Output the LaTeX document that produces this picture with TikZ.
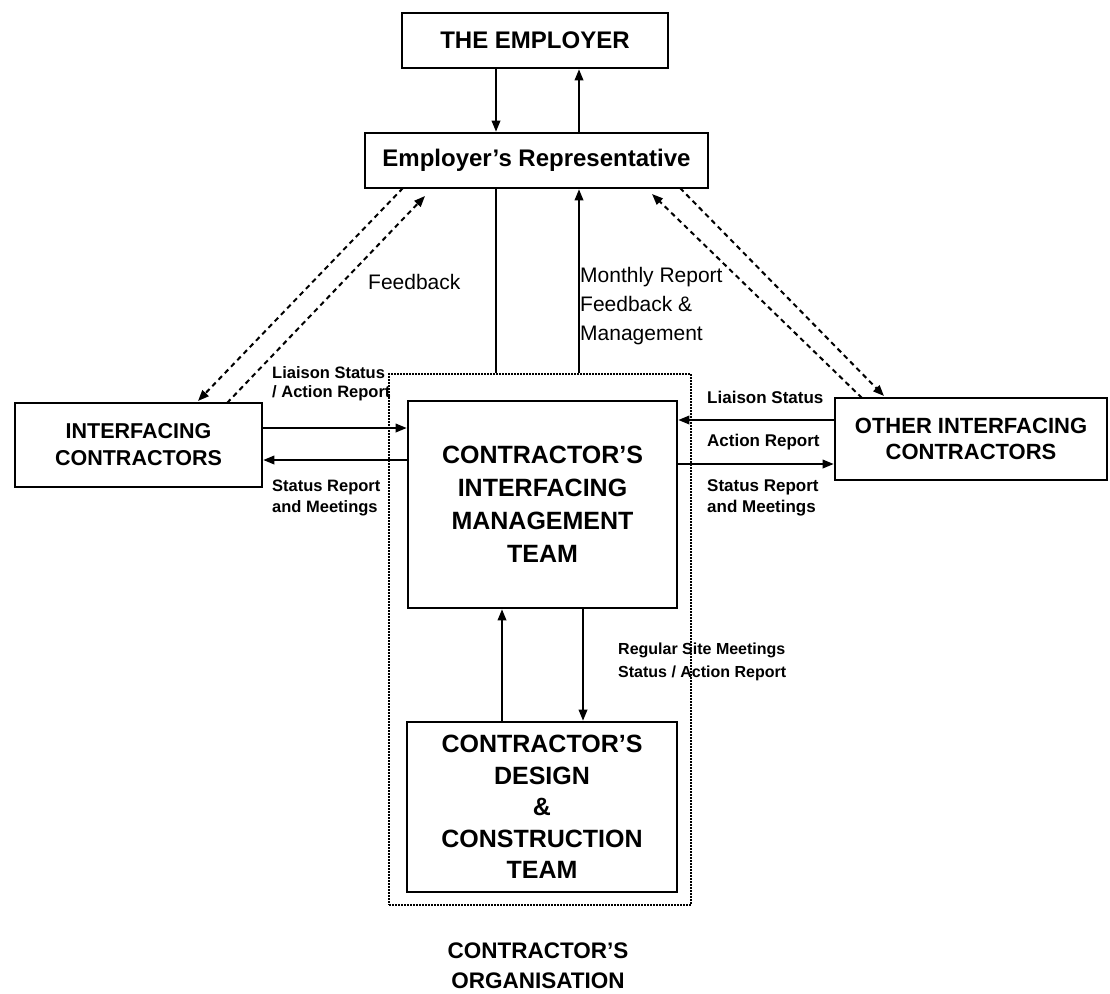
\documentclass[tikz,border=0pt]{standalone}
\usepackage{fontspec}
\setmainfont{Liberation Sans}
\usetikzlibrary{arrows.meta}
\tikzset{
  box/.style={draw, line width=2.6pt, inner sep=0pt, align=center, font=\bfseries\fontsize{25}{33}\selectfont},
  orgbox/.style={draw, line width=2.8pt, dash pattern=on 1.8pt off 1.2pt, inner sep=0pt},
  arr/.style={line width=1.8pt, -{Triangle[length=11pt,width=8.5pt]}},
  plainline/.style={line width=1.8pt},
  dasharr/.style={line width=2pt, dash pattern=on 5pt off 4pt, -{Triangle[length=11pt,width=8.5pt]}},
  lbl/.style={inner sep=0pt, align=left, anchor=west, font=\bfseries\fontsize{17}{20}\selectfont},
  biglbl/.style={inner sep=0pt, align=left, anchor=west, font=\fontsize{21}{29}\selectfont},
}
\begin{document}
\begin{tikzpicture}[x=1pt,y=-1pt]
\useasboundingbox (0,0) rectangle (1110,993);
% boxes
\node[box, minimum width=266pt, minimum height=55pt, font=\bfseries\fontsize{24}{28}\selectfont] (emp) at (535,40.5) {THE EMPLOYER};
\node[box, minimum width=343pt, minimum height=55pt, font=\bfseries\fontsize{24}{28}\selectfont] (er) at (536.5,160.5) {Employer's Representative};
\node[orgbox, minimum width=302pt, minimum height=531pt] (org) at (540,639.5) {};
\node[box, minimum width=269pt, minimum height=207pt] (cimt) at (542.5,504.5) {CONTRACTOR'S\\INTERFACING\\MANAGEMENT\\TEAM};
\node[box, minimum width=270pt, minimum height=170pt, font=\bfseries\fontsize{25}{31.5}\selectfont] (des) at (542,807) {CONTRACTOR'S\\DESIGN\\\&\\CONSTRUCTION\\TEAM};
\node[box, minimum width=247pt, minimum height=84pt, font=\bfseries\fontsize{21.5}{27}\selectfont] (ic) at (138.5,445) {INTERFACING\\CONTRACTORS};
\node[box, minimum width=272pt, minimum height=82pt, font=\bfseries\fontsize{22}{26}\selectfont] (oic) at (971,439) {OTHER INTERFACING\\CONTRACTORS};
\node[inner sep=0pt, align=center, font=\bfseries\fontsize{22.5}{30}\selectfont] (orglbl) at (538,966) {CONTRACTOR'S\\ORGANISATION};
% x/y reference coordinates
\coordinate (xa) at (496,0);
\coordinate (xb) at (579,0);
\coordinate (xc) at (502,0);
\coordinate (xd) at (583,0);
\coordinate (ya) at (0,428);
\coordinate (yb) at (0,460);
\coordinate (yc) at (0,420);
\coordinate (yd) at (0,464);
% employer <-> representative
\draw[arr] (emp.south -| xa) -- (er.north -| xa);
\draw[arr] (er.north -| xb) -- (emp.south -| xb);
% representative <-> organisation
\draw[plainline] (org.north -| xa) -- (er.south -| xa);
\draw[arr] (org.north -| xb) -- (er.south -| xb);
% cimt <-> design
\draw[arr] (des.north -| xc) -- (cimt.south -| xc);
\draw[arr] (cimt.south -| xd) -- (des.north -| xd);
% interfacing contractors <-> cimt
\draw[arr] (ic.east |- ya) -- (cimt.west |- ya);
\draw[arr] (cimt.west |- yb) -- (ic.east |- yb);
\draw[arr] (oic.west |- yc) -- (cimt.east |- yc);
\draw[arr] (cimt.east |- yd) -- (oic.west |- yd);
% dashed feedback lines
\coordinate (d1) at (403,188);
\coordinate (d2) at (198,401);
\coordinate (d3) at (425,196);
\coordinate (d4) at (227,403);
\coordinate (d5) at (652,194);
\coordinate (d6) at (862,398);
\coordinate (d7) at (680,188);
\coordinate (d8) at (884,396);
\draw[dasharr] (d1) -- (d2);
\draw[dasharr] (d4) -- (d3);
\draw[dasharr] (d6) -- (d5);
\draw[dasharr] (d7) -- (d8);
% labels
\node[biglbl] (fb) at (368,282) {Feedback};
\node[biglbl] (mr) at (580,306) {Monthly Report\\Feedback \&\\Management};
\node[lbl, font=\bfseries\fontsize{16.5}{19}\selectfont] (l1) at (272,384) {Liaison Status\\/ Action Report};
\node[lbl, font=\bfseries\fontsize{16.5}{21}\selectfont] (l2) at (272,498) {Status Report\\and Meetings};
\node[lbl] (r1) at (707,397) {Liaison Status};
\node[lbl] (r2) at (707,442) {Action Report};
\node[lbl, font=\bfseries\fontsize{17}{21}\selectfont] (r3) at (707,498) {Status Report\\and Meetings};
\node[lbl, font=\bfseries\fontsize{16}{23}\selectfont] (rs) at (618,662) {Regular Site Meetings\\Status / Action Report};
\end{tikzpicture}
\end{document}
